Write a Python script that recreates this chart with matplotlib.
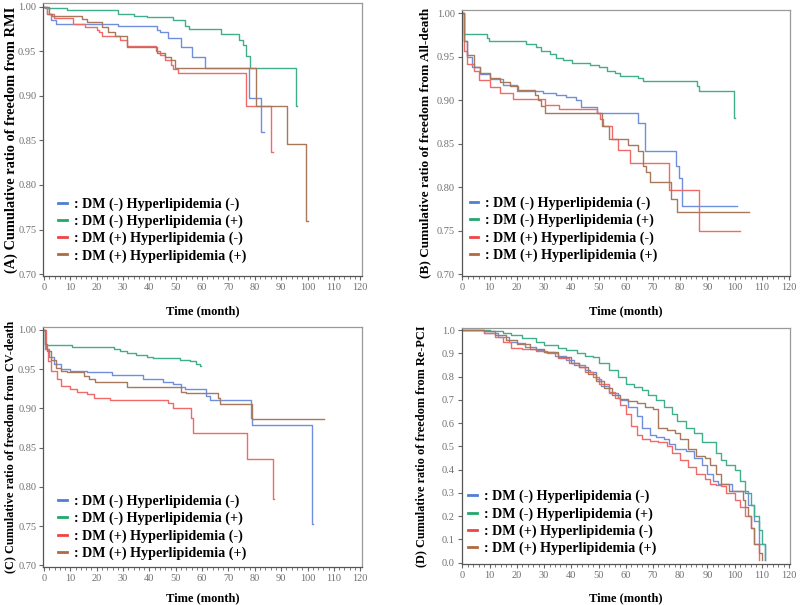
import numpy as np
import matplotlib.pyplot as plt
from matplotlib.lines import Line2D
from matplotlib.ticker import MultipleLocator, FormatStrFormatter

plt.rcParams['font.family'] = ['Liberation Serif', 'DejaVu Serif']

labels = [': DM (-) Hyperlipidemia (-)', ': DM (-) Hyperlipidemia (+)',
          ': DM (+) Hyperlipidemia (-)', ': DM (+) Hyperlipidemia (+)']
line_colors = ['#6f8fdc', '#3fae8c', '#f06a6a', '#a8785c']
key_colors = ['#4f7fd4', '#22a86a', '#f04444', '#b06a40']

# (A) freedom from RMI
a1_t = [0, 1, 2.5, 4.4, 28, 42.7, 44, 47, 52, 56, 61, 77.9, 82.4, 83.3]
a1_s = [1.0, 0.992, 0.985, 0.981, 0.978, 0.974, 0.971, 0.965, 0.955, 0.944, 0.931, 0.898, 0.859, 0.859]
a2_t = [0, 0.5, 8.8, 28, 34, 39, 49, 53.4, 55, 67, 74, 75.4, 76.6, 78, 95.6, 96]
a2_s = [1.0, 0.998, 0.996, 0.992, 0.99, 0.988, 0.985, 0.978, 0.975, 0.969, 0.962, 0.957, 0.945, 0.931, 0.889, 0.889]
a3_t = [0, 1, 3.7, 11, 15.5, 20, 21, 22, 29, 31.4, 42.5, 44, 46, 48, 49, 51, 76.7, 86.2, 87]
a3_s = [1.0, 0.992, 0.987, 0.98, 0.977, 0.974, 0.971, 0.967, 0.963, 0.956, 0.95, 0.946, 0.94, 0.935, 0.93, 0.926, 0.889, 0.837, 0.837]
a4_t = [0, 1.8, 3, 14.5, 16.5, 22, 24.4, 27, 31.4, 43, 46, 48, 49.6, 80.5, 92.3, 99.5, 100]
a4_s = [1.0, 0.992, 0.99, 0.986, 0.9825, 0.977, 0.971, 0.967, 0.955, 0.948, 0.944, 0.94, 0.931, 0.889, 0.846, 0.76, 0.76]

# (B) freedom from all-death
b1_t = [0, 0.6, 1.8, 3.6, 6.6, 10.3, 15, 20, 29.6, 34.4, 38, 41.6, 43.4, 49.3, 64.5, 66.9, 78.4, 79.6, 80.8, 100.7]
b1_s = [1.0, 0.968, 0.95, 0.938, 0.93, 0.924, 0.917, 0.911, 0.908, 0.906, 0.904, 0.9, 0.892, 0.885, 0.874, 0.841, 0.824, 0.811, 0.778, 0.778]
b2_t = [0, 0.4, 9, 9.6, 23.5, 27, 29, 32, 34.4, 36.8, 40.4, 47, 50, 53, 56, 58, 64.5, 66.3, 86.3, 87, 99.8, 100]
b2_s = [1.0, 0.976, 0.972, 0.968, 0.965, 0.961, 0.957, 0.953, 0.948, 0.946, 0.943, 0.94, 0.938, 0.934, 0.931, 0.928, 0.925, 0.922, 0.916, 0.91, 0.88, 0.88]
b3_t = [0, 0.6, 1.8, 4.2, 6, 10.3, 13.9, 18.7, 30.2, 35.6, 49.3, 50.5, 51.7, 54.8, 57.2, 61.4, 76, 87, 101.9]
b3_s = [1.0, 0.957, 0.942, 0.934, 0.923, 0.915, 0.908, 0.901, 0.895, 0.89, 0.885, 0.878, 0.87, 0.855, 0.843, 0.828, 0.797, 0.75, 0.75]
b4_t = [0, 0.6, 1.8, 4.2, 6.6, 10.3, 13.9, 17.5, 20.5, 26.5, 27.7, 29, 30.2, 51.2, 54, 60.9, 64.6, 66.4, 67.6, 68.8, 76.6, 79, 105.4]
b4_s = [1.0, 0.968, 0.952, 0.938, 0.931, 0.925, 0.921, 0.916, 0.912, 0.906, 0.9, 0.893, 0.885, 0.87, 0.855, 0.848, 0.841, 0.824, 0.817, 0.806, 0.786, 0.772, 0.772]

# (C) freedom from CV-death
c1_t = [0, 0.5, 1.9, 3.8, 6.3, 10, 16.3, 25.8, 37.7, 45.2, 49, 52, 53.4, 61.5, 62.8, 78.5, 79.1, 101.8, 102]
c1_s = [1.0, 0.975, 0.965, 0.956, 0.95, 0.947, 0.946, 0.943, 0.938, 0.934, 0.931, 0.927, 0.924, 0.916, 0.911, 0.888, 0.879, 0.753, 0.753]
c2_t = [0, 0.4, 10.7, 26.4, 29, 31.4, 35, 39, 41.5, 51.5, 55.3, 57.8, 59, 59.5]
c2_s = [1.0, 0.981, 0.978, 0.976, 0.973, 0.97, 0.968, 0.966, 0.964, 0.961, 0.96, 0.957, 0.954, 0.954]
c3_t = [0, 0.6, 1.5, 2.5, 5, 6.3, 10, 12.6, 16.3, 18.8, 25.1, 47, 49, 55.9, 56.5, 76.9, 86.9, 87.2]
c3_s = [1.0, 0.975, 0.96, 0.948, 0.937, 0.928, 0.924, 0.921, 0.918, 0.913, 0.91, 0.907, 0.901, 0.888, 0.868, 0.836, 0.785, 0.785]
c4_t = [0, 0.5, 1.3, 2.5, 4.4, 6.3, 8.8, 15, 17, 19.5, 31.4, 52.1, 54, 66, 66.6, 79.1, 106.2]
c4_s = [1.0, 0.982, 0.973, 0.961, 0.952, 0.948, 0.946, 0.941, 0.937, 0.933, 0.927, 0.921, 0.92, 0.913, 0.905, 0.887, 0.887]

# (D) freedom from Re-PCI
d1_t = [0, 8, 13, 17, 20, 23, 27, 30, 34, 38, 41, 45, 47, 49, 51, 54, 57, 58, 61, 64, 66, 69, 71, 74, 76, 78,
        82, 85, 88, 90, 92, 94, 99, 103, 105, 107, 109, 111]
d1_s = [1.0, 0.99, 0.97, 0.95, 0.945, 0.93, 0.915, 0.905, 0.89, 0.87, 0.85, 0.83, 0.82, 0.79, 0.76, 0.73, 0.71, 0.7,
        0.67, 0.63, 0.58, 0.55, 0.54, 0.53, 0.51, 0.49, 0.48, 0.45, 0.42, 0.38, 0.35, 0.34, 0.31, 0.31, 0.25, 0.18,
        0.08, 0.01]
d2_t = [0, 10, 15, 18, 22, 27, 30, 35, 38, 42, 45, 48, 50, 54, 57, 60, 63, 66, 68, 71, 74, 77, 79, 82, 85, 88,
        93, 95, 97, 100, 102, 104, 106, 107, 109, 110, 111]
d2_s = [1.0, 0.995, 0.99, 0.98, 0.965, 0.95, 0.935, 0.925, 0.915, 0.9, 0.89, 0.885, 0.86, 0.83, 0.8, 0.77, 0.755,
        0.745, 0.72, 0.7, 0.67, 0.64, 0.61, 0.58, 0.56, 0.52, 0.47, 0.44, 0.42, 0.4, 0.35, 0.3, 0.25, 0.2, 0.14,
        0.08, 0.01]
d3_t = [0, 8, 12, 15, 18, 22, 27, 31, 35, 39, 43, 45, 48, 50, 54, 56, 58, 60, 62, 64, 66, 69, 72, 75, 77, 80,
        83, 86, 89, 91, 93, 95, 97, 100, 102, 104, 106, 107, 109]
d3_s = [1.0, 0.99, 0.97, 0.95, 0.925, 0.92, 0.91, 0.9, 0.88, 0.86, 0.84, 0.82, 0.8, 0.77, 0.735, 0.71, 0.68, 0.64,
        0.59, 0.55, 0.53, 0.525, 0.52, 0.5, 0.47, 0.44, 0.41, 0.38, 0.36, 0.34, 0.335, 0.33, 0.3, 0.27, 0.24, 0.2,
        0.15, 0.08, 0.01]
d4_t = [0, 8, 12, 16, 20, 25, 30, 35, 40, 43, 46, 49, 52, 55, 58, 61, 64, 67, 70, 72, 75, 78, 80, 83, 86, 89,
        91, 93, 95, 98, 102, 103, 104, 105, 106, 107, 109, 110]
d4_s = [1.0, 0.995, 0.98, 0.96, 0.94, 0.92, 0.905, 0.885, 0.86, 0.84, 0.81, 0.78, 0.75, 0.72, 0.705, 0.695, 0.685,
        0.67, 0.66, 0.58, 0.57, 0.56, 0.53, 0.49, 0.46, 0.45, 0.42, 0.38, 0.34, 0.31, 0.31, 0.27, 0.24, 0.2, 0.15,
        0.08, 0.04, 0.01]

panels = [
    ('(A) Cumulative ratio of freedom from RMI', [(a1_t, a1_s), (a2_t, a2_s), (a3_t, a3_s), (a4_t, a4_s)]),
    ('(B) Cumulative ratio of freedom from All-death', [(b1_t, b1_s), (b2_t, b2_s), (b3_t, b3_s), (b4_t, b4_s)]),
    ('(C) Cumulative ratio of freedom from CV-death', [(c1_t, c1_s), (c2_t, c2_s), (c3_t, c3_s), (c4_t, c4_s)]),
    ('(D) Cumulative ratio of freedom from Re-PCI', [(d1_t, d1_s), (d2_t, d2_s), (d3_t, d3_s), (d4_t, d4_s)]),
]

# axes boxes in figure fractions (left, bottom, width, height)
boxes = [
    (0.054, 0.544, 0.398, 0.451),
    (0.577, 0.544, 0.411, 0.440),
    (0.054, 0.063, 0.398, 0.397),
    (0.577, 0.068, 0.411, 0.390),
]
legend_anchor = [(0.047, 0.287), (0.025, 0.297), (0.047, 0.300), (0.02, 0.313)]
ylabel_x = [-0.078, -0.093, -0.085, -0.103]
ylabel_size = [10.4, 9.5, 8.8, 8.8]
xlabel_y = [-0.106, -0.109, -0.104, -0.119]

fig = plt.figure(figsize=(8, 6.05), dpi=100)

for i, (ylab, series) in enumerate(panels):
    ax = fig.add_axes(boxes[i])
    for (t, s), c in zip(series, line_colors):
        ax.plot(t, s, drawstyle='steps-post', color=c, lw=1.0)

    ax.set_xlim(-0.3, 120.5)
    ax.xaxis.set_major_locator(MultipleLocator(10))
    ax.xaxis.set_minor_locator(MultipleLocator(2))
    if i == 3:
        ax.set_ylim(-0.005, 1.01)
        ax.yaxis.set_major_locator(MultipleLocator(0.1))
        ax.yaxis.set_major_formatter(FormatStrFormatter('%.1f'))
    else:
        ax.set_ylim(0.698, 1.004)
        ax.yaxis.set_major_locator(MultipleLocator(0.05))
        ax.yaxis.set_major_formatter(FormatStrFormatter('%.2f'))

    ax.tick_params(which='major', direction='out', length=3, width=0.8, color='#666666',
                   labelsize=7.5, labelcolor='#707070', pad=2)
    ax.tick_params(which='minor', direction='out', length=2, width=0.6, color='#666666')
    for side in ['left', 'bottom']:
        ax.spines[side].set_color('#555555')
        ax.spines[side].set_linewidth(0.9)
    for side in ['top', 'right']:
        ax.spines[side].set_color('#999999')
        ax.spines[side].set_linewidth(0.9)

    ax.set_ylabel(ylab, fontsize=ylabel_size[i], fontweight='bold')
    ax.yaxis.set_label_coords(ylabel_x[i], 0.5)
    ax.set_xlabel('Time (month)', fontsize=9, fontweight='bold')
    ax.xaxis.set_label_coords(0.5, xlabel_y[i])

    handles = [Line2D([0], [0], color=c, lw=2) for c in key_colors]
    ax.legend(handles, labels, loc='upper left', bbox_to_anchor=legend_anchor[i],
              frameon=False, handlelength=0.6, handletextpad=0.5, labelspacing=0.26,
              borderpad=0, borderaxespad=0,
              prop={'family': 'Liberation Serif', 'weight': 'bold', 'size': 10.2})

fig.savefig('out.png', dpi=100)
